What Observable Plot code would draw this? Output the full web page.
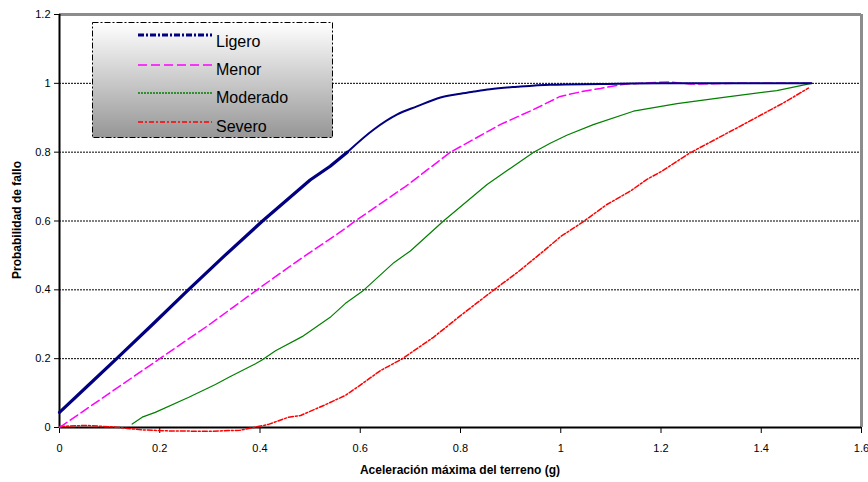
<!DOCTYPE html>
<html>
<head>
<meta charset="utf-8">
<script src="https://cdn.jsdelivr.net/npm/d3@7"></script>
<script src="https://cdn.jsdelivr.net/npm/@observablehq/plot@0.6"></script>
<style>
  html, body { margin: 0; padding: 0; background: #fff; }
  #chart { position: relative; width: 868px; height: 482px; }
  svg { font-family: "Liberation Sans", Arial, sans-serif; }
</style>
</head>
<body>
<div id="chart"></div>
<script>
// ---- data ----
const seriesNames = ["Ligero", "Menor", "Moderado", "Severo"];
const xTicks = [0, 0.2, 0.4, 0.6, 0.8, 1, 1.2, 1.4, 1.6];
const yTicks = [0, 0.2, 0.4, 0.6, 0.8, 1, 1.2];
const gridY = [0.2, 0.4, 0.6, 0.8, 1];

const ligeroX = [0, 0.057, 0.114, 0.186, 0.257, 0.33, 0.405, 0.5, 0.54, 0.574, 0.627, 0.673, 0.713, 0.76, 0.80, 0.826, 0.859, 0.913, 0.979, 1.079, 1.2, 1.3, 1.4, 1.5];
const ligeroY = [0.044, 0.122, 0.2, 0.3, 0.4, 0.5, 0.6, 0.719, 0.759, 0.8, 0.866, 0.909, 0.933, 0.959, 0.970, 0.976, 0.983, 0.99, 0.996, 0.998, 1, 1, 1, 1];

const menorX = [0, 0.1, 0.2, 0.3, 0.394, 0.481, 0.57, 0.59, 0.69, 0.78, 0.879, 0.946, 0.999, 1.045, 1.079, 1.112, 1.132, 1.18, 1.218, 1.258, 1.35, 1.5];
const menorY = [0, 0.1, 0.2, 0.3, 0.4, 0.49, 0.578, 0.6, 0.7, 0.8, 0.88, 0.924, 0.962, 0.977, 0.985, 0.994, 0.998, 1.002, 1.004, 0.998, 1, 1];

const moderadoX = [0.145, 0.165, 0.191, 0.258, 0.311, 0.338, 0.391, 0.404, 0.431, 0.484, 0.54, 0.57, 0.607, 0.667, 0.70, 0.766, 0.853, 0.946, 0.979, 1.012, 1.065, 1.145, 1.232, 1.258, 1.325, 1.431, 1.5];
const moderadoY = [0.01, 0.03, 0.044, 0.088, 0.125, 0.146, 0.185, 0.196, 0.223, 0.264, 0.32, 0.36, 0.399, 0.479, 0.513, 0.6, 0.706, 0.8, 0.826, 0.849, 0.88, 0.919, 0.941, 0.946, 0.959, 0.979, 1.0];

const severoX = [0, 0.052, 0.112, 0.165, 0.22, 0.3, 0.36, 0.391, 0.417, 0.457, 0.481, 0.527, 0.57, 0.594, 0.64, 0.683, 0.746, 0.80, 0.866, 0.913, 0.966, 1.0, 1.042, 1.092, 1.139, 1.172, 1.202, 1.258, 1.351, 1.444, 1.494];
const severoY = [0.003, 0.006, 0.001, -0.007, -0.01, -0.011, -0.008, 0.001, 0.009, 0.03, 0.035, 0.064, 0.093, 0.117, 0.165, 0.199, 0.262, 0.325, 0.399, 0.45, 0.513, 0.555, 0.595, 0.648, 0.687, 0.721, 0.745, 0.798, 0.87, 0.943, 0.986];

const colors = {Ligero: "#000080", Menor: "#FF00FF", Moderado: "#008000", Severo: "#FF0000"};
const dashes = {Ligero: "6,2,2,2", Menor: "9,4", Moderado: "2,1", Severo: "5,2,2,2"};
const widths = {Ligero: 3, Menor: 1.5, Moderado: 1.2, Severo: 1.5};

const zip = (xs, ys) => xs.map((x, i) => ({x, y: ys[i]}));
const ligero = zip(ligeroX, ligeroY);
const ligeroA = ligero.filter(d => d.x <= 0.574);
const ligeroB = ligero.filter(d => d.x >= 0.574);
const menor = zip(menorX, menorY);
const moderado = zip(moderadoX, moderadoY);
const severo = zip(severoX, severoY);

const fmt = d => String(+d.toFixed(1));
const font = '"Liberation Sans", Arial, sans-serif';

const plot = Plot.plot({
  width: 868,
  height: 482,
  marginLeft: 59,
  marginRight: 7,
  marginTop: 14,
  marginBottom: 55,
  style: {fontFamily: font, fontSize: "11px", color: "#000", background: "#fff"},
  x: {domain: [0, 1.6], ticks: xTicks, tickFormat: fmt},
  y: {domain: [0, 1.2], ticks: yTicks, tickFormat: fmt},
  marks: [
    Plot.ruleY(gridY, {stroke: "#000", strokeWidth: 1, strokeDasharray: "2,1"}),
    Plot.ruleY([1.2], {stroke: "#8c8c8c", strokeWidth: 3}),
    Plot.ruleX([1.6], {stroke: "#8c8c8c", strokeWidth: 3}),
    Plot.ruleX([0], {stroke: "#000", strokeWidth: 2}),
    Plot.ruleY([0], {stroke: "#000", strokeWidth: 2}),
    Plot.axisY({ticks: yTicks, tickFormat: fmt, tickSize: 5, tickPadding: 4, label: null, fontSize: 11}),
    Plot.axisX({ticks: xTicks, tickFormat: fmt, tickSize: 6, tickPadding: 11, label: null, fontSize: 11}),
    Plot.line(severo, {x: "x", y: "y", stroke: colors.Severo, strokeWidth: widths.Severo, strokeDasharray: dashes.Severo}),
    Plot.line(moderado, {x: "x", y: "y", stroke: colors.Moderado, strokeWidth: widths.Moderado}),
    Plot.line(menor, {x: "x", y: "y", stroke: colors.Menor, strokeWidth: widths.Menor, strokeDasharray: dashes.Menor}),
    Plot.line(ligeroB, {x: "x", y: "y", stroke: colors.Ligero, strokeWidth: 2, curve: "monotone-x"}),
    Plot.line(ligeroA, {x: "x", y: "y", stroke: colors.Ligero, strokeWidth: 3.2})
  ]
});

document.getElementById("chart").appendChild(plot);

const svg = d3.select(plot);

// axis titles
svg.append("text")
  .attr("x", 460).attr("y", 474)
  .attr("text-anchor", "middle")
  .attr("font-family", font).attr("font-size", 12).attr("font-weight", "bold")
  .attr("fill", "#000")
  .text("Aceleración máxima del terreno (g)");

svg.append("text")
  .attr("transform", "translate(21,220) rotate(-90)")
  .attr("text-anchor", "middle")
  .attr("font-family", font).attr("font-size", 12).attr("font-weight", "bold")
  .attr("fill", "#000")
  .text("Probabilidad de fallo");

// legend
const defs = svg.append("defs");
const grad = defs.append("linearGradient").attr("id", "lg").attr("x1", 0).attr("y1", 0).attr("x2", 0).attr("y2", 1);
grad.append("stop").attr("offset", "0%").attr("stop-color", "#ffffff");
grad.append("stop").attr("offset", "100%").attr("stop-color", "#969696");

const lg = svg.append("g");
lg.append("rect")
  .attr("x", 92.5).attr("y", 22.5).attr("width", 240).attr("height", 115)
  .attr("fill", "url(#lg)")
  .attr("stroke", "#000").attr("stroke-width", 1)
  .attr("stroke-dasharray", "6,2,2,2");

const rowLine = [35, 65, 93, 122];
const rowText = [47, 75, 103, 132];
seriesNames.forEach((name, i) => {
  lg.append("line")
    .attr("x1", 138).attr("x2", 212)
    .attr("y1", rowLine[i]).attr("y2", rowLine[i])
    .attr("stroke", colors[name])
    .attr("stroke-width", name === "Ligero" ? 3 : 1.5)
    .attr("stroke-dasharray", dashes[name]);
  lg.append("text")
    .attr("x", 216).attr("y", rowText[i])
    .attr("text-anchor", "start")
    .attr("font-family", font).attr("font-size", 16)
    .attr("fill", "#000")
    .text(name);
});
</script>
</body>
</html>
